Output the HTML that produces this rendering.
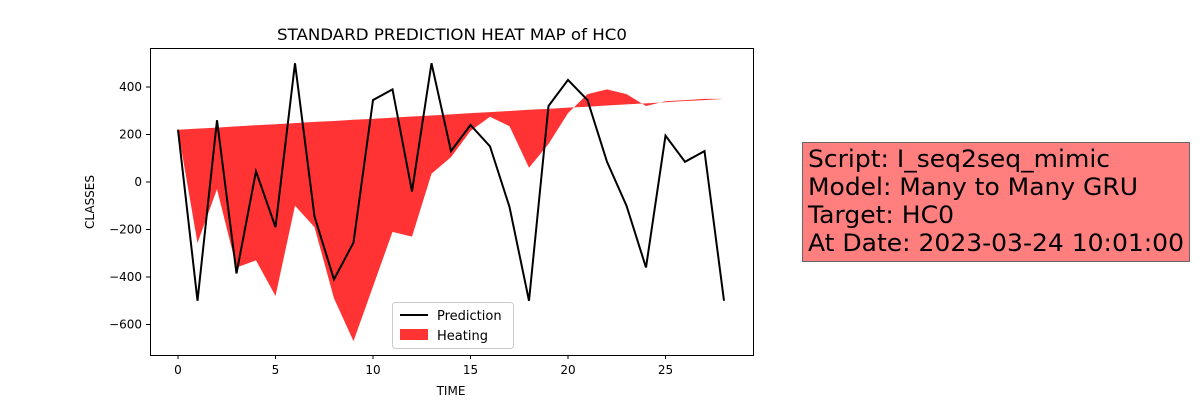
<!DOCTYPE html>
<html><head><meta charset="utf-8"><style>
body{margin:0;background:#fff;width:1202px;height:400px;overflow:hidden;font-family:"Liberation Sans","DejaVu Sans",sans-serif}
</style></head><body>
<svg id="chart" width="1202" height="400" xmlns="http://www.w3.org/2000/svg" font-family="DejaVu Sans, Liberation Sans, sans-serif">
<rect width="1202" height="400" fill="#fff"/>
<text x="277" y="40" font-size="16" textLength="350" lengthAdjust="spacingAndGlyphs">STANDARD PREDICTION HEAT MAP of HC0</text>
<g id="plot"></g>
<rect x="150.5" y="48.5" width="603" height="307" fill="none" stroke="#000" stroke-width="1"/>
<g id="axes"></g>
<text x="451" y="395" text-anchor="middle" font-size="12">TIME</text>
<text transform="translate(94,202) rotate(-90)" text-anchor="middle" font-size="12">CLASSES</text>
<g>
<rect x="392.5" y="302.5" width="121" height="46" rx="3" fill="#fff" fill-opacity="0.8" stroke="#ccc"/>
<line x1="400" y1="315" x2="428" y2="315" stroke="#000" stroke-width="2"/>
<text x="437" y="320" font-size="13">Prediction</text>
<rect x="400" y="329" width="28" height="11" fill="#ff0000" fill-opacity="0.8"/>
<text x="437" y="340" font-size="13">Heating</text>
</g>
<g>
<rect x="802.5" y="142.5" width="387" height="119" fill="#ff7f7f" stroke="#666"/>
<text x="808" y="167" font-size="24" textLength="302" lengthAdjust="spacingAndGlyphs">Script: I_seq2seq_mimic</text>
<text x="808" y="195" font-size="24" textLength="330" lengthAdjust="spacingAndGlyphs">Model: Many to Many GRU</text>
<text x="808" y="223" font-size="24" textLength="146" lengthAdjust="spacingAndGlyphs">Target: HC0</text>
<text x="808" y="251" font-size="24" textLength="376" lengthAdjust="spacingAndGlyphs">At Date: 2023-03-24 10:01:00</text>
</g>
</svg>
<script>
const prediction=[220,-500,260,-385,45,-190,500,-145,-410,-255,345,390,-40,500,130,240,150,-105,-500,320,430,345,85,-100,-360,195,85,130,-500];
const heating=[220,-257,-30,-360,-330,-480,-100,-190,-490,-670,-440,-210,-230,35,105,215,275,235,60,160,290,370,390,370,320,340,345,350,350];
const baseline=[220,225,229,234,239,243,248,253,257,262,266,271,276,280,285,290,294,299,304,308,313,317,322,327,331,336,341,345,350];
const xTicks=[0,5,10,15,20,25];
const yTicks=[400,200,0,-200,-400,-600];
const ns="http://www.w3.org/2000/svg";
const X=v=>178+19.5*v, Y=v=>182-0.2375*v;
const plot=document.getElementById('plot'), axes=document.getElementById('axes');
let d='M'+baseline.map((v,i)=>X(i)+','+Y(v)).join('L');
for(let i=heating.length-1;i>=0;i--) d+='L'+X(i)+','+Y(heating[i]);
const area=document.createElementNS(ns,'path');
area.setAttribute('d',d+'Z');area.setAttribute('fill','#ff0000');area.setAttribute('fill-opacity','0.8');


plot.appendChild(area);
const line=document.createElementNS(ns,'polyline');
line.setAttribute('points',prediction.map((v,i)=>X(i)+','+Y(v)).join(' '));
line.setAttribute('fill','none');line.setAttribute('stroke','#000');line.setAttribute('stroke-width','2');


plot.appendChild(line);
xTicks.forEach(t=>{
  const l=document.createElementNS(ns,'line');
  l.setAttribute('x1',X(t));l.setAttribute('x2',X(t));l.setAttribute('y1',355);l.setAttribute('y2',359);l.setAttribute('stroke','#000');
  
  
  axes.appendChild(l);
  const tx=document.createElementNS(ns,'text');
  tx.setAttribute('x',X(t));tx.setAttribute('y',374);tx.setAttribute('text-anchor','middle');tx.setAttribute('font-size','12');
  tx.textContent=t;
  
  
  axes.appendChild(tx);
});
yTicks.forEach(t=>{
  const l=document.createElementNS(ns,'line');
  l.setAttribute('x1',146);l.setAttribute('x2',150);l.setAttribute('y1',Y(t));l.setAttribute('y2',Y(t));l.setAttribute('stroke','#000');
  
  
  axes.appendChild(l);
  const tx=document.createElementNS(ns,'text');
  tx.setAttribute('x',142);tx.setAttribute('y',Y(t)+4);tx.setAttribute('text-anchor','end');tx.setAttribute('font-size','12');
  tx.textContent=t<0?'\u2212'+(-t):t;
  
  
  axes.appendChild(tx);
});
</script>
</body></html>
